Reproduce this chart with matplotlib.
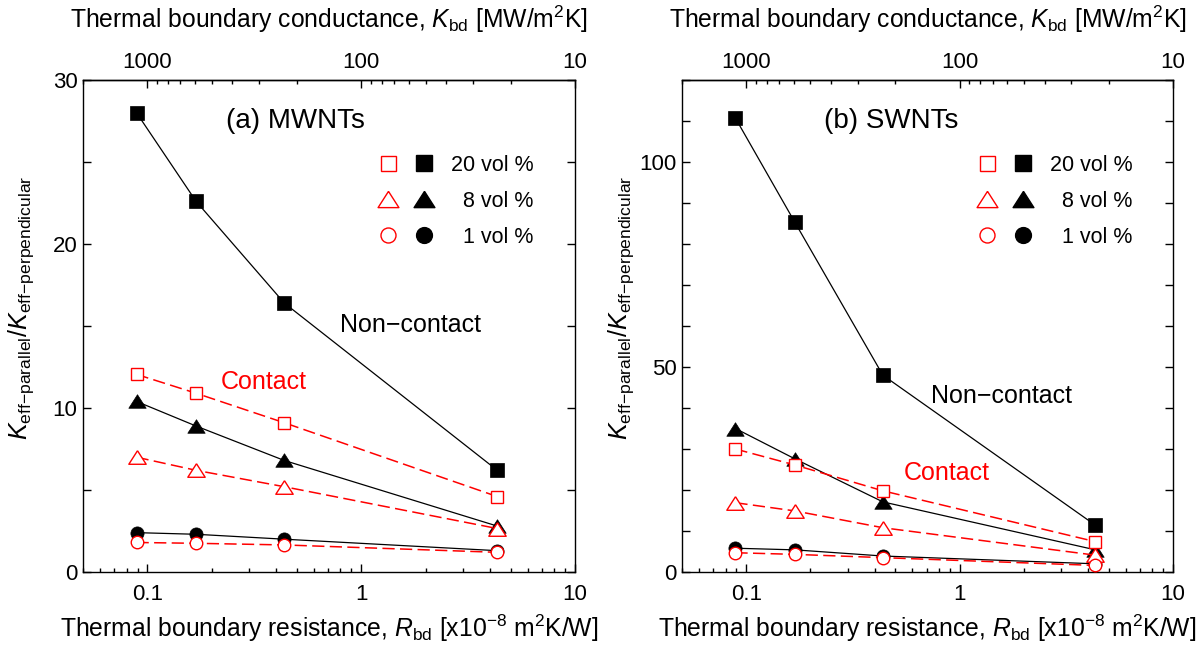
import numpy as np
import matplotlib
matplotlib.use('Agg')
import matplotlib.pyplot as plt
from matplotlib.lines import Line2D
from matplotlib.legend_handler import HandlerTuple
from matplotlib.ticker import FuncFormatter, NullFormatter, MultipleLocator, FixedLocator

plt.rcParams['font.family'] = ['Liberation Sans', 'DejaVu Sans']
plt.rcParams['mathtext.fontset'] = 'custom'
plt.rcParams['mathtext.rm'] = 'Liberation Sans'
plt.rcParams['mathtext.it'] = 'Liberation Sans:italic'
plt.rcParams['mathtext.bf'] = 'Liberation Sans:bold'

# ---------------- data ----------------
r_bd = [0.089, 0.169, 0.437, 4.33]   # x10^-8 m^2K/W
r_ticks = [0.1, 1, 10]
k_ticks = [1000, 100, 10]

mw_nc_20 = [28.0, 22.6, 16.4, 6.2]
mw_nc_8 = [10.4, 8.9, 6.8, 2.8]
mw_nc_1 = [2.4, 2.3, 2.0, 1.3]
mw_c_20 = [12.05, 10.9, 9.1, 4.6]
mw_c_8 = [7.0, 6.2, 5.2, 2.65]
mw_c_1 = [1.8, 1.75, 1.65, 1.2]

sw_nc_20 = [110.7, 85.3, 48.0, 11.4]
sw_nc_8 = [35.0, 27.6, 17.1, 5.4]
sw_nc_1 = [5.8, 5.4, 3.9, 2.0]
sw_c_20 = [30.0, 26.1, 19.8, 7.4]
sw_c_8 = [16.9, 14.9, 10.8, 4.1]
sw_c_1 = [4.7, 4.3, 3.5, 1.6]

legend_labels = ["20 vol %", "  8 vol %", "  1 vol %"]
panel_titles = ["(a) MWNTs", "(b) SWNTs"]

# ---------------- style ----------------
RED = '#ff0000'
TRI = [(0, 0.78), (-1, -0.78), (1, -0.78), (0, 0.78)]
shapes = {'s': ('s', 10.0), '^': (TRI, 12.5), 'o': ('o', 9.5)}
shapes_open = {'s': ('s', 9.0), '^': (TRI, 12.5), 'o': ('o', 9.0)}

fig = plt.figure(figsize=(12.01, 6.48), dpi=100)
ax1 = fig.add_axes([83 / 1201, 76 / 648, 492 / 1201, 492 / 648])
ax2 = fig.add_axes([682 / 1201, 76 / 648, 491 / 1201, 492 / 648])


def conv(x):
    x = np.asarray(x, dtype=float)
    with np.errstate(divide='ignore', invalid='ignore'):
        return np.where(x > 0, 100.0 / np.where(x > 0, x, 1), np.inf)


def fmt_g(v, pos=None):
    return '%g' % v


def draw(ax, nc, c, ylim, major, minor, texts):
    keys = ['s', '^', 'o']
    for k, y in zip(keys, nc):
        m, ms = shapes[k]
        ax.plot(r_bd, y, color='black', lw=0.9, marker=m, ms=ms,
                mfc='black', mec='black', mew=0.5, zorder=3)
    for k, y in zip(keys, c):
        m, ms = shapes_open[k]
        ax.plot(r_bd, y, color=RED, lw=1.1, ls=(0, (8, 3.5)), marker=m, ms=ms,
                mfc='white', mec=RED, mew=1.0, zorder=4)
    ax.set_xscale('log')
    ax.set_xlim(0.05, 10)
    ax.set_ylim(*ylim)
    ax.yaxis.set_major_locator(MultipleLocator(major))
    ax.yaxis.set_minor_locator(MultipleLocator(minor))
    ax.xaxis.set_major_locator(FixedLocator(r_ticks))
    ax.xaxis.set_major_formatter(FuncFormatter(fmt_g))
    ax.xaxis.set_minor_formatter(NullFormatter())
    ax.tick_params(which='both', direction='in', top=False, right=True,
                   labelsize=16)
    ax.tick_params(axis='x', which='major', length=6, width=1, pad=9)
    ax.tick_params(axis='x', which='minor', length=3, width=1)
    ax.tick_params(axis='y', which='both', length=6, width=1, pad=4)
    for s in ax.spines.values():
        s.set_linewidth(1.0)

    sec = ax.secondary_xaxis('top', functions=(conv, conv))
    sec.xaxis.set_major_locator(FixedLocator(k_ticks))
    sec.xaxis.set_major_formatter(FuncFormatter(fmt_g))
    sec.xaxis.set_minor_formatter(NullFormatter())
    sec.tick_params(which='both', direction='in', labelsize=16)
    sec.tick_params(which='major', length=6, width=1, pad=5)
    sec.tick_params(which='minor', length=3, width=1)
    sec.spines['top'].set_linewidth(1.0)
    sec.set_xlabel(r"Thermal boundary conductance, $K_{\mathrm{bd}}$ [MW/m$^{2}$K]",
                   fontsize=17.8, labelpad=17)

    ax.set_xlabel(r"Thermal boundary resistance, $R_{\mathrm{bd}}$ [x10$^{-8}$ m$^{2}$K/W]",
                  fontsize=17.8, labelpad=5)
    ax.set_ylabel(r"$K_{\mathrm{eff{-}parallel}}/K_{\mathrm{eff{-}perpendicular}}$",
                  fontsize=18)

    # legend with paired markers
    handles = []
    for k in keys:
        mo, mso = shapes_open[k]
        mf, msf = shapes[k]
        ho = Line2D([], [], ls='none', marker=mo, ms=mso, mfc='white', mec=RED, mew=1.0)
        hf = Line2D([], [], ls='none', marker=mf, ms=msf, mfc='black', mec='black')
        handles.append((ho, hf))
    ax.legend(handles, legend_labels, handler_map={tuple: HandlerTuple(ndivide=None, pad=1.02)},
              loc='upper left', bbox_to_anchor=(0.606, 0.848), frameon=False,
              borderpad=0, borderaxespad=0, handlelength=2.33, handletextpad=0.93,
              labelspacing=0.70, numpoints=1, markerscale=1.2, fontsize=15.5)

    for (tx, x, y, col, fs) in texts:
        ax.text(x, y, tx, transform=ax.transAxes, ha='left', va='center',
                color=col, fontsize=fs)


draw(ax1, [mw_nc_20, mw_nc_8, mw_nc_1], [mw_c_20, mw_c_8, mw_c_1],
     (0, 30), 10, 5,
     [(panel_titles[0], 0.29, 0.917, 'black', 20),
      ("Non\u2212contact", 0.522, 0.502, 'black', 18),
      ("Contact", 0.280, 0.386, RED, 18)])
draw(ax2, [sw_nc_20, sw_nc_8, sw_nc_1], [sw_c_20, sw_c_8, sw_c_1],
     (0, 120), 50, 10,
     [(panel_titles[1], 0.29, 0.917, 'black', 20),
      ("Non\u2212contact", 0.507, 0.358, 'black', 18),
      ("Contact", 0.452, 0.201, RED, 18)])

ax1.yaxis.set_label_coords(-0.095, 0.537)
ax2.yaxis.set_label_coords(-0.093, 0.537)

fig.savefig('out.png', dpi=100)
